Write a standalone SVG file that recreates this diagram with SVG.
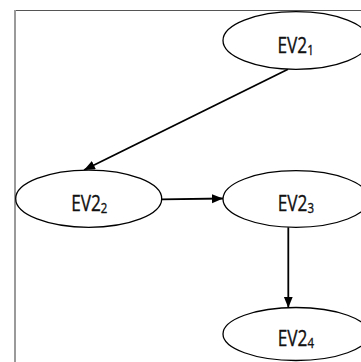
<svg xmlns="http://www.w3.org/2000/svg" width="361" height="362" viewBox="0 0 361 362">
  <style>
    .node ellipse { fill: #ffffff; stroke: #000000; stroke-width: 1.3; }
    .lbl { font-family: "Open Sans", "Liberation Sans", Arial, sans-serif; font-size: 21px; fill: #111111; stroke: #111111; stroke-width: 0.35; }
    .sub { font-size: 14px; }
    .edge { stroke: #000000; stroke-width: 1.8; fill: none; marker-end: url(#arrow); }
  </style>
  <defs>
    <marker id="arrow" markerUnits="userSpaceOnUse" markerWidth="12" markerHeight="10" refX="11" refY="4.5" orient="auto">
      <path d="M0,0 L11,4.5 L0,9 z" fill="#000000"/>
    </marker>
  </defs>
  <rect x="0" y="0" width="361" height="362" fill="#ffffff"/>
  <g id="frame">
    <line x1="14" y1="10.5" x2="361" y2="10.5" stroke="#555555" stroke-width="1"/>
    <line x1="15" y1="10" x2="15" y2="362" stroke="#9a9a9a" stroke-width="2"/>
  </g>
  <g id="connectors">
    <line class="edge" x1="288" y1="69.3" x2="84" y2="170"/>
    <line class="edge" x1="161.7" y1="199.3" x2="223" y2="198.5"/>
    <line class="edge" x1="288.3" y1="227.3" x2="288.3" y2="307.7"/>
  </g>
  <g id="EV2_1" class="node">
    <ellipse cx="296" cy="40.5" rx="73" ry="28.8"/>
    <text class="lbl" transform="translate(277.5,52.7) scale(0.82,1)">EV2<tspan class="sub" dy="2">1</tspan></text>
  </g>
  <g id="EV2_2" class="node">
    <ellipse cx="88.7" cy="198.7" rx="73" ry="28.6"/>
    <text class="lbl" transform="translate(71.2,210.7) scale(0.82,1)">EV2<tspan class="sub" dy="2">2</tspan></text>
  </g>
  <g id="EV2_3" class="node">
    <ellipse cx="296" cy="199" rx="73" ry="28.3"/>
    <text class="lbl" transform="translate(277.8,210.7) scale(0.82,1)">EV2<tspan class="sub" dy="2">3</tspan></text>
  </g>
  <g id="EV2_4" class="node">
    <ellipse cx="296" cy="334" rx="73" ry="26.5"/>
    <text class="lbl" transform="translate(277.8,345.7) scale(0.82,1)">EV2<tspan class="sub" dy="2">4</tspan></text>
  </g>
</svg>
